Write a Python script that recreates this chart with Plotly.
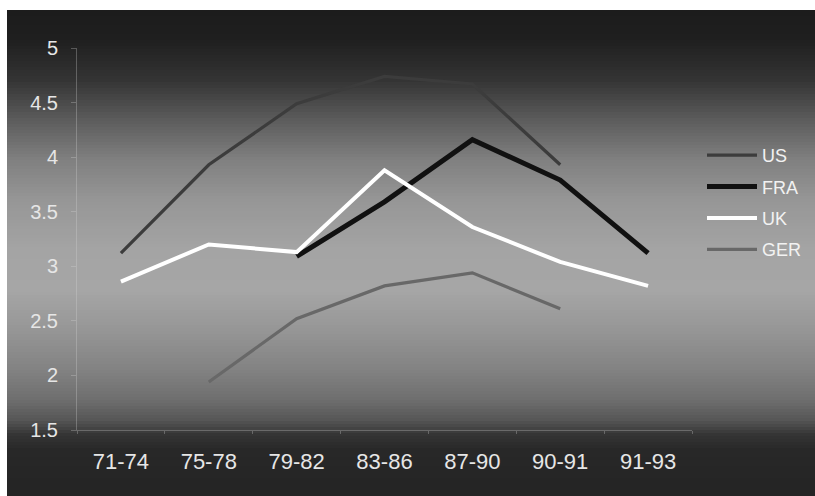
import numpy as np
import plotly.graph_objects as go

# Period labels on the x axis
periods = ["71-74", "75-78", "79-82", "83-86", "87-90", "90-91", "91-93"]

# Values per country (None = no value for that period)
us = [3.12, 3.93, 4.49, 4.74, 4.67, 3.93, None]
fra = [None, None, 3.09, 3.59, 4.16, 3.79, 3.12]
uk = [2.86, 3.20, 3.13, 3.88, 3.36, 3.04, 2.82]
ger = [None, 1.94, 2.52, 2.82, 2.94, 2.61, None]

W, H = 815, 496
# plot area in pixels
PL, PR, PT, PB = 77, 692, 48, 430

series = [
    ("US", us, "#3c3c3c", 3.2),
    ("FRA", fra, "#111111", 5),
    ("UK", uk, "#ffffff", 4),
    ("GER", ger, "#686868", 3.2),
]

fig = go.Figure()
for i, (name, vals, col, w) in enumerate(series):
    fig.add_trace(go.Scatter(
        x=periods, y=vals, name=name, mode="lines",
        line=dict(color=col, width=w),
        connectgaps=False, legendgroup=f"g{i}",
    ))

# vertical gray gradient behind the chart (dark top and bottom, light middle)
stops_py = [10, 40, 80, 120, 160, 200, 250, 290, 330, 370, 400, 420, 435, 450, 496]
stops_v = [28, 31, 52, 92, 128, 150, 164, 166, 150, 130, 110, 86, 52, 40, 36]


def px_to_paper_x(px):
    return (px - PL) / (PR - PL)


def px_to_paper_y(py):
    return (PB - py) / (PB - PT)


shapes = []
band = 3
for top in range(10, H, band):
    bot = min(top + band, H)
    mid = (top + bot) / 2
    v = int(round(np.interp(mid, stops_py, stops_v)))
    shapes.append(dict(
        type="rect", xref="paper", yref="paper", layer="below",
        x0=px_to_paper_x(7), x1=px_to_paper_x(W + 2),
        y0=px_to_paper_y(bot + 0.5), y1=px_to_paper_y(top),
        line=dict(width=0), fillcolor=f"rgb({v},{v},{v})",
    ))

axis_col = "rgba(215,215,215,0.3)"
fig.update_layout(
    width=W, height=H,
    margin=dict(l=PL, r=W - PR, t=PT, b=H - PB, autoexpand=False),
    paper_bgcolor="white",
    plot_bgcolor="rgba(0,0,0,0)",
    shapes=shapes,
    font=dict(family="Liberation Sans, Arial, sans-serif", color="#e8e8e8"),
    showlegend=True,
    legend=dict(
        x=px_to_paper_x(702), y=px_to_paper_y(137),
        xanchor="left", yanchor="top",
        bgcolor="rgba(0,0,0,0)",
        font=dict(size=18, color="#f2f2f2"),
        itemwidth=50, tracegroupgap=5,
    ),
    xaxis=dict(
        type="category", range=[-0.5, 6.5], automargin=False,
        showgrid=False, zeroline=False,
        showline=True, linecolor=axis_col, linewidth=1,
        ticks="outside", ticklen=3, tickcolor=axis_col, tickson="boundaries",
        tickfont=dict(size=22, color="#e6e6e6"),
        ticklabelstandoff=12,
    ),
    yaxis=dict(
        range=[1.5, 5], dtick=0.5, automargin=False,
        showgrid=False, zeroline=False,
        showline=True, linecolor=axis_col, linewidth=1,
        ticks="outside", ticklen=5, tickcolor=axis_col,
        tickfont=dict(size=20, color="#e6e6e6"),
        ticklabelstandoff=9,
    ),
)

fig.write_html("out.html")
